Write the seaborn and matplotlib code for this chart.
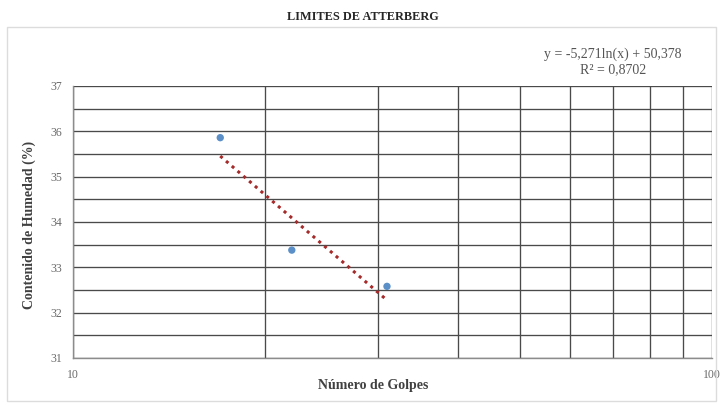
import matplotlib
matplotlib.use("Agg")
import matplotlib.pyplot as plt
from matplotlib.patches import Rectangle
import pandas as pd
import seaborn as sns

# data
golpes = [17, 22, 31]
humedad = [35.86, 33.38, 32.58]
y_ticks = [31, 32, 33, 34, 35, 36, 37]
x_ticks = [10, 100]
x_minor = [20, 30, 40, 50, 60, 70, 80, 90]
equation = "y = -5,271ln(x) + 50,378"
r2_text = "R² = 0,8702"

df = pd.DataFrame({"golpes": golpes, "humedad": humedad})

sns.set_style("white")
plt.rcParams["font.family"] = ["Liberation Serif", "DejaVu Serif"]

fig = plt.figure(figsize=(7.22, 4.04), dpi=100)
ax = fig.add_axes([73 / 722, 1 - 358 / 404, (712 - 73) / 722, (358 - 86) / 404])

# chart area border
fig.patches.append(Rectangle((7 / 722, 3 / 404), 709 / 722, 374 / 404,
                             transform=fig.transFigure, fill=False,
                             edgecolor="#dcdcdc", linewidth=1.0))

ax.set_xscale("log")
sns.regplot(data=df, x="golpes", y="humedad", logx=True, ci=None, ax=ax,
            scatter=False, truncate=True,
            line_kws={"color": "#a52a2a", "linestyle": (0, (1, 1.5)),
                      "linewidth": 2.2})
sns.scatterplot(data=df, x="golpes", y="humedad", ax=ax, color="#5b8fc7",
                s=28, edgecolor="none", zorder=4)

ax.set_xlim(10, 100)
ax.set_ylim(31, 37)
ax.set_xticks(x_ticks)
ax.set_xticks(x_minor, minor=True)
ax.set_xticklabels([str(t) for t in x_ticks])
ax.set_xticklabels([], minor=True)
ax.set_yticks(y_ticks)
ax.set_yticks([v + 0.5 for v in y_ticks[:-1]], minor=True)
ax.set_yticklabels([str(t) for t in y_ticks])

ax.grid(True, which="both", color="#4a4a4a", linewidth=0.95)
ax.set_axisbelow(True)
ax.tick_params(axis="both", which="both", length=0, labelsize=8.5,
               labelcolor="#6a6a6a")
ax.tick_params(axis="y", pad=8)
ax.tick_params(axis="x", pad=8)
for side in ["top", "right"]:
    ax.spines[side].set_visible(False)
for side in ["left", "bottom"]:
    ax.spines[side].set_color("#8c8c8c")
    ax.spines[side].set_linewidth(1.0)

ax.set_xlabel("Número de Golpes", fontsize=10, fontweight="bold",
              color="#404040")
ax.set_ylabel("Contenido de Humedad (%)", fontsize=10, fontweight="bold",
              color="#404040")
ax.xaxis.set_label_coords((373 - 73) / (712 - 73), -(385 - 358) / (358 - 86))
ax.yaxis.set_label_coords(-(73 - 29) / (712 - 73), (358 - 225) / (358 - 86))
ax.xaxis.label.set_va("center")
ax.yaxis.label.set_va("center")

fig.text(363 / 722, 1 - 17 / 404, "LIMITES DE ATTERBERG", ha="center",
         va="center", fontsize=8.8, fontweight="bold", color="#262626")
fig.text(613 / 722, 1 - 54 / 404, equation, ha="center", va="center",
         fontsize=10, color="#555555")
fig.text(613 / 722, 1 - 70 / 404, r2_text, ha="center", va="center",
         fontsize=10, color="#555555")

fig.savefig("out.png", dpi=100, facecolor="white")
